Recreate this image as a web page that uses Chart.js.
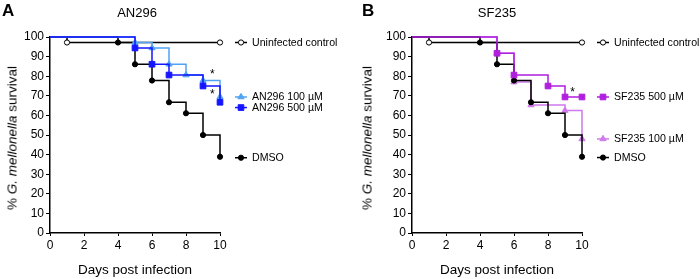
<!DOCTYPE html>
<html lang="en">
<head>
<meta charset="UTF-8">
<title>G. mellonella survival</title>
<script src="https://cdn.jsdelivr.net/npm/chart.js@4"></script>
<style>
  body { margin: 0; background: #fff; font-family: "Liberation Sans", Arial, sans-serif; color: #000; }
  #wrap { position: relative; width: 700px; height: 279px; overflow: hidden; }
  .panel { position: absolute; top: 0; width: 350px; height: 279px; }
  .panel canvas { position: absolute; left: 0; top: 0; }
  .letter { position: absolute; top: 1px; font-weight: bold; font-size: 17px; }
  .title { position: absolute; top: 5px; font-size: 13px; transform: translateX(-50%); white-space: nowrap; }
  .ytitle { position: absolute; top: 138px; font-size: 13.5px; white-space: nowrap; transform: translate(-50%, -50%) rotate(-90deg); }
</style>
</head>
<body>
<div id="wrap">
  <div class="panel" style="left:0">
    <canvas id="chartA" width="350" height="279"></canvas>
    <div class="letter" style="left:2px">A</div>
    <div class="title" style="left:137px">AN296</div>
    <div class="ytitle" style="left:12px">% <i>G. mellonella</i> survival</div>
  </div>
  <div class="panel" style="left:350px">
    <canvas id="chartB" width="350" height="279"></canvas>
    <div class="letter" style="left:12px">B</div>
    <div class="title" style="left:147px">SF235</div>
    <div class="ytitle" style="left:17px">% <i>G. mellonella</i> survival</div>
  </div>
</div>

<script>
// survival data (days post infection / % survival)
const uninfDays = [0, 1, 10];
const uninfSurv = [100, 97.2, 97.2];

const dmsoDays = [0, 4, 5, 6, 7, 8, 9, 10];
const dmsoSurv = [100, 97.2, 86.1, 77.8, 66.7, 61.1, 50, 38.9];

const an100Days = [0, 5, 6, 7, 8, 9, 10];
const an100Surv = [100, 97.2, 94.4, 86.1, 80.6, 77.8, 69.4];

const an500Days = [0, 5, 6, 7, 9, 10];
const an500Surv = [100, 94.4, 86.1, 80.6, 75, 66.7];

const sf500Days = [0, 5, 6, 8, 9, 10];
const sf500Surv = [100, 91.7, 80.6, 75, 69.4, 69.4];

const sf100Days = [0, 5, 6, 7, 9, 10];
const sf100Surv = [100, 91.7, 77, 65.3, 62.5, 48];

const xTicks = [0, 2, 4, 6, 8, 10];
const yTicks = [0, 10, 20, 30, 40, 50, 60, 70, 80, 90, 100];

// significance marks (x in days, y in %)
const starsA = [[9.55, 81.8], [9.55, 71.6]];
const starsB = [[9.45, 72.6]];

function pts(days, surv) {
  return days.map((d, i) => ({ x: d, y: surv[i] }));
}

function series(label, days, surv, color, shape, radius, fill) {
  return {
    label: label,
    data: pts(days, surv),
    stepped: 'before',
    borderColor: color,
    backgroundColor: fill || color,
    borderWidth: 1.5,
    pointStyle: shape,
    pointBorderColor: color,
    pointBackgroundColor: fill || color,
    pointBorderWidth: 1,
    pointRadius: ctx => ctx.dataIndex === 0 ? 0 : radius,
    legendRadius: radius,
    clip: false
  };
}

function drawMarker(ctx, shape, x, y, r, color, fill) {
  ctx.save();
  ctx.beginPath();
  if (shape === 'rect') {
    const s = r * Math.SQRT1_2;
    ctx.rect(x - s, y - s, 2 * s, 2 * s);
  } else if (shape === 'triangle') {
    ctx.moveTo(x, y - r);
    ctx.lineTo(x + r * 0.866, y + r / 2);
    ctx.lineTo(x - r * 0.866, y + r / 2);
    ctx.closePath();
  } else {
    ctx.arc(x, y, r, 0, Math.PI * 2);
  }
  ctx.fillStyle = fill;
  ctx.fill();
  ctx.lineWidth = 1;
  ctx.strokeStyle = color;
  ctx.stroke();
  ctx.restore();
}

// legend next to line ends + asterisks
const sideLegend = {
  id: 'sideLegend',
  afterDatasetsDraw(chart, args, opts) {
    const ctx = chart.ctx;
    const area = chart.chartArea;
    const xs = chart.scales.x, ys = chart.scales.y;
    ctx.save();
    opts.items.forEach(it => {
      const ds = chart.data.datasets[it.index];
      const y = ys.getPixelForValue(it.at);
      const x0 = area.right + 15;
      ctx.strokeStyle = ds.borderColor;
      ctx.lineWidth = 1.5;
      ctx.beginPath();
      ctx.moveTo(x0, y);
      ctx.lineTo(x0 + 12, y);
      ctx.stroke();
      drawMarker(ctx, ds.pointStyle, x0 + 6, y, ds.legendRadius, ds.borderColor, ds.pointBackgroundColor);
      ctx.fillStyle = '#000';
      ctx.font = '10.6px "Liberation Sans", Arial, sans-serif';
      ctx.textBaseline = 'middle';
      ctx.textAlign = 'left';
      ctx.fillText(ds.label, x0 + 17, y + 0.5);
    });
    ctx.font = '12px "Liberation Sans", Arial, sans-serif';
    ctx.textAlign = 'center';
    ctx.textBaseline = 'middle';
    ctx.fillStyle = '#000';
    opts.stars.forEach(s => {
      ctx.fillText('*', xs.getPixelForValue(s[0]), ys.getPixelForValue(s[1]) + 2);
    });
    ctx.restore();
  }
};

Chart.defaults.font.family = '"Liberation Sans", Arial, sans-serif';
Chart.defaults.color = '#000';

function makeChart(id, datasets, items, stars, yWidth, padRight) {
  return new Chart(document.getElementById(id), {
    type: 'line',
    data: { datasets: datasets },
    options: {
      responsive: false,
      animation: false,
      layout: { padding: { top: 37, right: padRight, bottom: 0, left: 0 } },
      plugins: {
        legend: { display: false },
        title: { display: false },
        tooltip: { enabled: false },
        sideLegend: { items: items, stars: stars }
      },
      scales: {
        x: {
          type: 'linear',
          min: 0, max: 10,
          afterBuildTicks: s => { s.ticks = xTicks.map(v => ({ value: v })); },
          afterFit: s => { s.height = 46; },
          ticks: { font: { size: 12 }, padding: 2, maxRotation: 0 },
          grid: { drawOnChartArea: false, tickLength: 3, color: '#000', lineWidth: 1 },
          border: { color: '#000', width: 1.5 },
          title: { display: true, text: 'Days post infection', font: { size: 13.5 }, padding: { top: 0, bottom: 1 } }
        },
        y: {
          min: 0, max: 100,
          afterBuildTicks: s => { s.ticks = yTicks.map(v => ({ value: v })); },
          afterFit: s => { s.width = yWidth; },
          ticks: { font: { size: 12 }, padding: 2 },
          grid: { drawOnChartArea: false, tickLength: 4, color: '#000', lineWidth: 1 },
          border: { color: '#000', width: 1.5 }
        }
      }
    },
    plugins: [sideLegend]
  });
}

const colBlack = '#000000';
const colAn100 = '#4fa3f2';
const colAn500 = '#1515ff';
const colSf500 = '#b01ede';
const colSf100 = '#cf7aea';

makeChart('chartA', [
  series('AN296 500 \u00b5M', an500Days, an500Surv, colAn500, 'rect', 4),
  series('AN296 100 \u00b5M', an100Days, an100Surv, colAn100, 'triangle', 3.6),
  series('DMSO', dmsoDays, dmsoSurv, colBlack, 'circle', 2.6),
  series('Uninfected control', uninfDays, uninfSurv, colBlack, 'circle', 2.6, '#ffffff')
], [
  { index: 3, at: 97.2 },
  { index: 1, at: 69.4 },
  { index: 0, at: 64 },
  { index: 2, at: 38.4 }
], starsA, 50, 130);

makeChart('chartB', [
  series('SF235 500 \u00b5M', sf500Days, sf500Surv, colSf500, 'rect', 4),
  series('DMSO', dmsoDays, dmsoSurv, colBlack, 'circle', 2.6),
  series('SF235 100 \u00b5M', sf100Days, sf100Surv, colSf100, 'triangle', 3.6),
  series('Uninfected control', uninfDays, uninfSurv, colBlack, 'circle', 2.6, '#ffffff')
], [
  { index: 3, at: 97.2 },
  { index: 0, at: 69.4 },
  { index: 2, at: 48 },
  { index: 1, at: 38.5 }
], starsB, 62, 118);
</script>
</body>
</html>
